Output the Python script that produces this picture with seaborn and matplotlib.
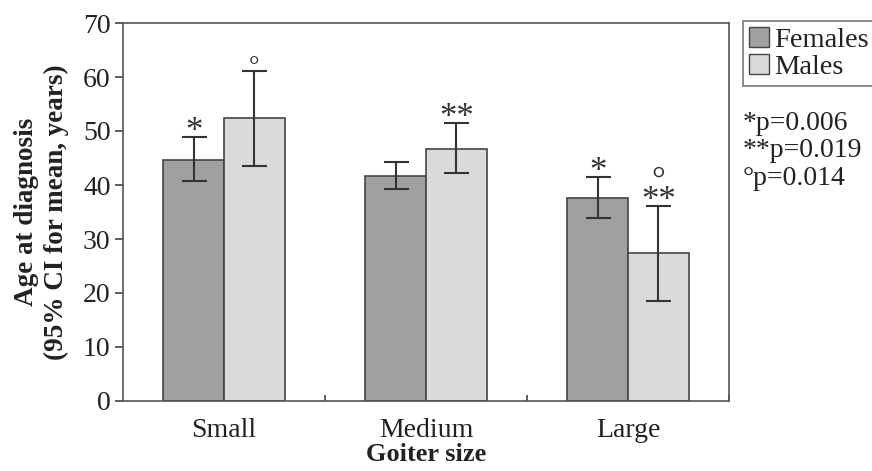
import matplotlib
matplotlib.use("Agg")
import matplotlib.pyplot as plt
import seaborn as sns
import pandas as pd
import numpy as np
from matplotlib.patches import Patch

categories = ["Small", "Medium", "Large"]
sexes = ["Females", "Males"]
females_mean = [44.6, 41.7, 37.6]
females_low = [40.7, 39.2, 33.8]
females_high = [48.8, 44.2, 41.4]
males_mean = [52.4, 46.7, 27.4]
males_low = [43.6, 42.2, 18.6]
males_high = [61.2, 51.4, 36.1]
females_marks = ["*", "", "*"]
males_marks = ["\u00b0", "**", "**"]
males_extra = ["", "", "\u00b0"]
pvalue_lines = ["*p=0.006", "**p=0.019", "\u00b0p=0.014"]

df = pd.DataFrame({
    "size": categories * 2,
    "sex": [sexes[0]] * 3 + [sexes[1]] * 3,
    "age": females_mean + males_mean,
})

sns.set_theme(style="white")
plt.rcParams["font.family"] = ["Liberation Serif", "DejaVu Serif"]

fig = plt.figure(figsize=(8.72, 4.71), dpi=100)
ax = fig.add_axes([123 / 872, 1 - 401 / 471, (729 - 123) / 872, (401 - 23) / 471])

colors = {"Females": "#a0a0a0", "Males": "#dadada"}
sns.barplot(data=df, x="size", y="age", hue="sex", order=categories,
            hue_order=sexes, palette=colors, width=0.6, edgecolor="#444444",
            linewidth=1.2, errorbar=None, ax=ax, legend=False)

# error bars and annotations
patches = sorted(ax.patches, key=lambda p: p.get_x())
centers = [p.get_x() + p.get_width() / 2 for p in patches]
means, lows, highs, marks, extras = [], [], [], [], []
for i in range(3):
    means += [females_mean[i], males_mean[i]]
    lows += [females_low[i], males_low[i]]
    highs += [females_high[i], males_high[i]]
    marks += [females_marks[i], males_marks[i]]
    extras += ["", males_extra[i]]
means = np.array(means); lows = np.array(lows); highs = np.array(highs)
ax.errorbar(centers, means, yerr=[means - lows, highs - means], fmt="none",
            ecolor="#333333", elinewidth=1.5, capsize=9, capthick=1.5)
for x, h, m, e in zip(centers, highs, marks, extras):
    if m == "\u00b0":
        ax.annotate(m, (x, h), xytext=(0, -2), textcoords="offset points",
                    ha="center", va="baseline", fontsize=19, color="#333333")
    elif m:
        label = (e + "\n" + m) if e else m
        ax.annotate(label, (x, h), xytext=(0, -2.5), textcoords="offset points",
                    ha="center", va="baseline", multialignment="center",
                    linespacing=0.45, fontsize=25, color="#333333")

ax.set_xlim(-0.5, 2.5)
ax.set_ylim(0, 70)
ax.set_yticks(range(0, 71, 10))
ax.set_xticks(range(3))
ax.set_xticklabels(categories)
ax.set_xticks([0.5, 1.5, 2.5], minor=True)
ax.tick_params(axis="x", which="major", length=0, labelsize=20, pad=12, colors="#222222")
ax.tick_params(axis="x", which="minor", length=4, width=1.2, color="#444444", direction="in", bottom=True)
ax.tick_params(axis="y", length=6, width=1.2, color="#444444", direction="out", left=True,
               labelsize=20, colors="#222222", pad=3)
for s in ax.spines.values():
    s.set_color("#555555")
    s.set_linewidth(1.2)

ax.set_ylabel("Age at diagnosis\n(95% CI for mean, years)", fontsize=19.5,
              fontweight="bold", color="#222222", labelpad=10, linespacing=1.25)
ax.set_xlabel("Goiter size", fontsize=19, fontweight="bold", color="#222222", labelpad=0)

handles = [Patch(facecolor=colors[s], edgecolor="#444444", linewidth=1.0, label=s) for s in sexes]
leg = fig.legend(handles=handles, loc="upper left", bbox_to_anchor=(743 / 872, 1 - 21 / 471),
                 frameon=True, fancybox=False, fontsize=20.5, handlelength=0.7,
                 handleheight=0.7, handletextpad=0.2, borderpad=0.2, labelspacing=0.05,
                 borderaxespad=0)
leg.get_frame().set_edgecolor("#555555")
leg.get_frame().set_linewidth(1.2)
for t in leg.get_texts():
    t.set_color("#222222")

fig.text(743 / 872, 1 - 111 / 471, "\n".join(pvalue_lines), ha="left", va="top",
         fontsize=20, color="#222222", linespacing=1.12)

fig.savefig("out.png", dpi=100)
